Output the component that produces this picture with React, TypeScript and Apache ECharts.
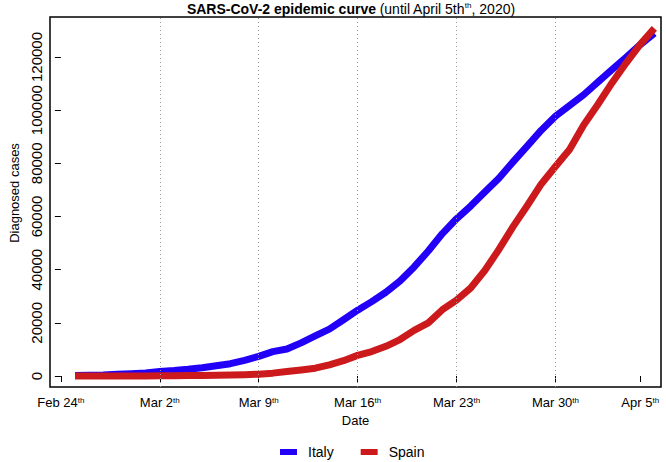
import React, { useEffect, useRef } from 'react';
import * as echarts from 'echarts';

// cumulative diagnosed cases, one value per plotted day (day 1 .. day 42)
const italy = [
  229, 322, 400, 650, 888, 1128, 1694, 2036, 2502, 3089, 3858, 4636, 5883, 7375,
  9172, 10149, 12462, 15113, 17660, 21157, 24747, 27980, 31506, 35713, 41035,
  47021, 53578, 59138, 63927, 69176, 74386, 80539, 86498, 92472, 97689, 101739,
  105792, 110574, 115242, 119827, 124632, 128948,
];
const spain = [
  2, 6, 13, 15, 32, 45, 84, 120, 165, 222, 259, 400, 500, 673, 1073, 1695, 2277,
  2950, 4209, 5753, 7753, 9191, 11178, 13716, 17147, 19980, 24926, 28572, 33089,
  39673, 47610, 56188, 64059, 72248, 78797, 85195, 94417, 102136, 110238, 117710,
  124736, 130759,
];
const firstDay = 1;
const tickDays = [0, 7, 14, 21, 28, 35, 41];
const tickLabels = ['Feb 24', 'Mar 2', 'Mar 9', 'Mar 16', 'Mar 23', 'Mar 30', 'Apr 5'];
const gridDays = [7, 14, 21, 28, 35];
const yTicks = [0, 20000, 40000, 60000, 80000, 100000, 120000];

const FONT = '"Liberation Sans", Arial, Helvetica, sans-serif';

export default function App() {
  const ref = useRef<HTMLDivElement>(null);
  useEffect(() => {
    const chart = echarts.init(ref.current!, null, { renderer: 'svg' });
    const toPairs = (arr: number[]) => arr.map((v, i) => [firstDay + i, v]);
    chart.setOption({
      animation: false,
      textStyle: { fontFamily: FONT, color: '#000' },
      graphic: [
        {
          type: 'text',
          x: 351,
          y: 1,
          style: {
            text: '{b|SARS-CoV-2 epidemic curve} {n|(until April 5th}{s|th}{n|, 2020)}',
            textAlign: 'center',
            textVerticalAlign: 'top',
            fontFamily: FONT,
            rich: {
              b: { fontSize: 14, fontWeight: 'bold', fontFamily: FONT, lineHeight: 15, verticalAlign: 'bottom' },
              n: { fontSize: 14, fontFamily: FONT, lineHeight: 15, verticalAlign: 'bottom' },
              s: { fontSize: 8, fontFamily: FONT, lineHeight: 15, verticalAlign: 'top' },
            },
          },
        },
      ],
      grid: {
        left: 41,
        top: 17,
        width: 620,
        height: 370,
        show: true,
        borderColor: '#000',
        borderWidth: 1.5,
        backgroundColor: 'transparent',
        containLabel: false,
      },
      legend: {
        left: 280,
        top: 445,
        padding: 0,
        icon: 'rect',
        itemWidth: 17,
        itemHeight: 6,
        itemGap: 27,
        data: ['Italy', 'Spain'],
        textStyle: { fontSize: 14, fontFamily: FONT, color: '#000', padding: [0, 0, 0, 6] },
      },
      xAxis: {
        type: 'value',
        min: -0.77,
        max: 42.47,
        name: 'Date',
        nameLocation: 'middle',
        nameGap: 26,
        nameTextStyle: { fontSize: 13, fontFamily: FONT, color: '#000' },
        axisLine: { show: false },
        axisTick: {
          show: true,
          inside: false,
          length: 6,
          customValues: tickDays,
          lineStyle: { color: '#000', width: 1 },
        },
        axisLabel: {
          customValues: tickDays,
          margin: 9,
          fontSize: 13,
          color: '#000',
          fontFamily: FONT,
          hideOverlap: false,
          formatter: (v: number) => {
            const i = tickDays.indexOf(Math.round(v));
            return i < 0 ? '' : tickLabels[i] + '{s|th}';
          },
          rich: {
            s: { fontSize: 8, verticalAlign: 'top', fontFamily: FONT, color: '#000' },
          },
        },
        splitLine: { show: false },
      },
      yAxis: {
        type: 'value',
        min: -4138,
        max: 135047,
        name: 'Diagnosed cases',
        nameLocation: 'middle',
        nameGap: 29,
        nameRotate: 90,
        nameTextStyle: { fontSize: 13, fontFamily: FONT, color: '#000', padding: [0, 0, 0, 18] },
        axisLine: { show: false },
        axisTick: {
          show: true,
          inside: false,
          length: 6,
          customValues: yTicks,
          lineStyle: { color: '#000', width: 1 },
        },
        axisLabel: {
          customValues: yTicks,
          rotate: 90,
          margin: 6,
          fontSize: 15,
          color: '#000',
          fontFamily: FONT,
          hideOverlap: false,
          showMinLabel: true,
          showMaxLabel: true,
          formatter: (v: number) => String(Math.round(v)),
        },
        splitLine: { show: false },
      },
      series: [
        {
          name: 'grid',
          type: 'line',
          data: [],
          z: 1,
          silent: true,
          markLine: {
            silent: true,
            symbol: ['none', 'none'],
            label: { show: false },
            lineStyle: { type: [1, 3], color: '#999', width: 1 },
            data: gridDays.map((d) => ({ xAxis: d })),
          },
        },
        {
          name: 'Italy',
          type: 'line',
          z: 2,
          data: toPairs(italy),
          showSymbol: false,
          symbol: 'none',
          color: '#2200f8',
          lineStyle: { width: 7, color: '#2200f8', cap: 'butt', join: 'round' },
        },
        {
          name: 'Spain',
          type: 'line',
          z: 3,
          data: toPairs(spain),
          showSymbol: false,
          symbol: 'none',
          color: '#cc1a1c',
          lineStyle: { width: 7, color: '#cc1a1c', cap: 'butt', join: 'round' },
        },
      ],
    });
    return () => chart.dispose();
  }, []);
  return <div ref={ref} style={{ width: 666, height: 462, position: 'absolute', left: 0, top: 0 }} />;
}
